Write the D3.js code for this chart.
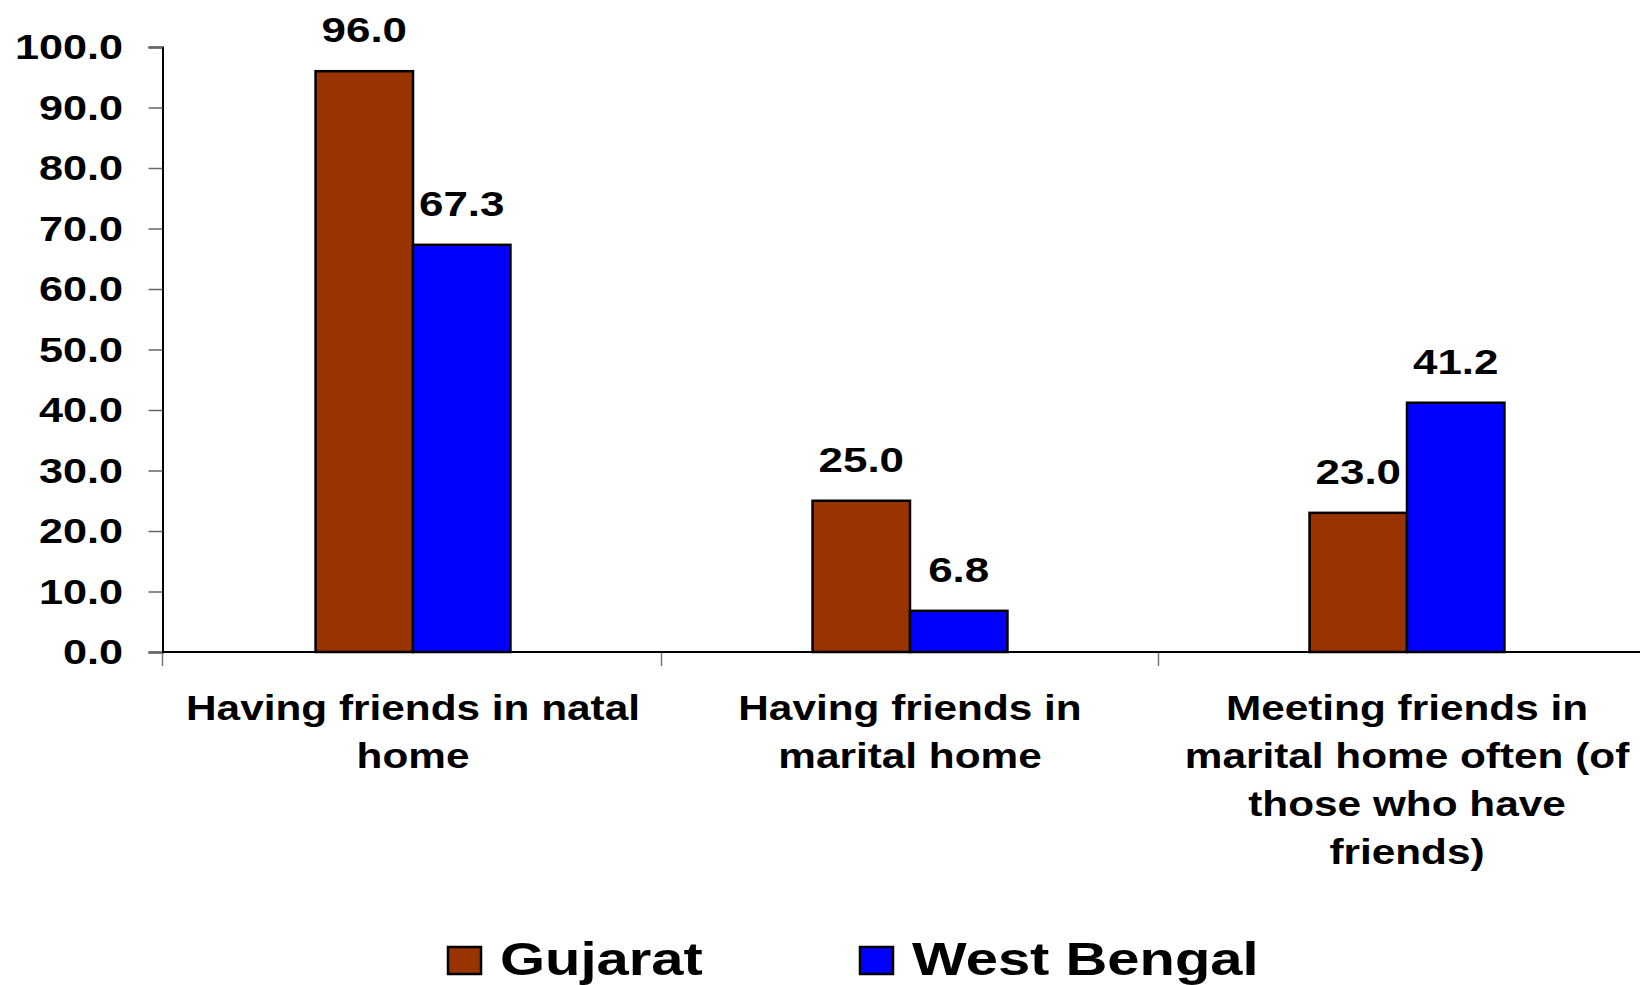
<!DOCTYPE html>
<html>
<head>
<meta charset="utf-8">
<script src="https://cdn.jsdelivr.net/npm/d3@7"></script>
<style>
  html, body { margin: 0; padding: 0; background: #ffffff; }
  svg { display: block; }
  text { font-family: "Liberation Sans", Arial, Helvetica, sans-serif; font-weight: bold; fill: #000; }
</style>
</head>
<body>
<svg id="chart" width="1640" height="985"></svg>
<script>
// ---- data ----
const categories = [
  "Having friends in natal home",
  "Having friends in marital home",
  "Meeting friends in marital home often (of those who have friends)"
];
const categoryLines = [
  ["Having friends in natal", "home"],
  ["Having friends in", "marital home"],
  ["Meeting friends in", "marital home often (of", "those who have", "friends)"]
];
const seriesNames = ["Gujarat", "West Bengal"];
const gujarat = [96.0, 25.0, 23.0];
const westBengal = [67.3, 6.8, 41.2];
const yTicks = [0, 10, 20, 30, 40, 50, 60, 70, 80, 90, 100];
const colors = ["#993300", "#0000FF"];

// ---- layout ----
const svg = d3.select("#chart");
const W = 1640, H = 985;
const axisX = 162.5, axisY = 652, topY = 47;
const catStart = 164.5;
const step = 497;

const x0 = d3.scaleBand().domain(categories).range([catStart, catStart + step * categories.length]).padding(0);
const x1 = d3.scaleBand().domain(seriesNames).range([0, x0.bandwidth()]).paddingInner(0).paddingOuter(1.55);
const y = d3.scaleLinear().domain([0, 100]).range([axisY, topY]);

const seriesValues = [gujarat, westBengal];
const rows = categories.map((c, i) => ({
  cat: c,
  vals: seriesNames.map((s, j) => ({ s, j, v: seriesValues[j][i] }))
}));

// y axis
const yAxis = d3.axisLeft(y).tickValues(yTicks).tickSize(14).tickFormat("");
const gy = svg.append("g").attr("transform", `translate(${axisX},0)`).call(yAxis);
gy.select(".domain").attr("stroke", "#000").attr("stroke-width", 2);
gy.selectAll(".tick line").attr("stroke", "#666").attr("stroke-width", 1.5);

// y tick labels (stretched horizontally like the reference)
svg.append("g").selectAll("g.ylab").data(yTicks).join("g")
  .attr("class", "ylab")
  .attr("transform", d => `translate(123,${y(d) + 12}) scale(1.2,1)`)
  .append("text")
  .attr("text-anchor", "end")
  .style("font-size", "36px")
  .text(d => d.toFixed(1));

// x axis
const xAxis = d3.axisBottom(x0).tickSize(0).tickFormat("");
const gx = svg.append("g").attr("transform", `translate(0,${axisY})`).call(xAxis);
gx.select(".domain").remove();
gx.append("line").attr("x1", axisX).attr("x2", W).attr("y1", 0).attr("y2", 0)
  .attr("stroke", "#000").attr("stroke-width", 2);
gx.selectAll("line.cattick").data(categories).join("line")
  .attr("class", "cattick")
  .attr("x1", (d, i) => i === 0 ? axisX : x0(d)).attr("x2", (d, i) => i === 0 ? axisX : x0(d))
  .attr("y1", 1).attr("y2", 14)
  .attr("stroke", "#777").attr("stroke-width", 1.5);

// bars
const groups = svg.append("g").selectAll("g.cat").data(rows).join("g")
  .attr("class", "cat")
  .attr("transform", d => `translate(${x0(d.cat)},0)`);

groups.selectAll("rect").data(d => d.vals).join("rect")
  .attr("x", d => x1(d.s))
  .attr("y", d => y(d.v))
  .attr("width", x1.bandwidth())
  .attr("height", d => y(0) - y(d.v))
  .attr("fill", d => colors[d.j])
  .attr("stroke", "#000")
  .attr("stroke-width", 2.5);

// value labels
groups.selectAll("g.vlab").data(d => d.vals).join("g")
  .attr("class", "vlab")
  .attr("transform", d => `translate(${x1(d.s) + x1.bandwidth() / 2},${y(d.v) - 29}) scale(1.22,1)`)
  .append("text")
  .attr("text-anchor", "middle")
  .style("font-size", "36px")
  .text(d => d.v.toFixed(1));

// category labels
categories.forEach((c, i) => {
  const cx = x0(c) + x0.bandwidth() / 2;
  categoryLines[i].forEach((line, k) => {
    svg.append("g")
      .attr("transform", `translate(${cx},${720 + k * 48}) scale(1.21,1)`)
      .append("text")
      .attr("text-anchor", "middle")
      .style("font-size", "35px")
      .text(line);
  });
});

// legend
const legendX = [448, 860];
const leg = svg.append("g").selectAll("g.leg").data(seriesNames).join("g")
  .attr("class", "leg");
leg.append("rect")
  .attr("x", (d, i) => legendX[i])
  .attr("y", 947)
  .attr("width", 33)
  .attr("height", 27)
  .attr("fill", (d, i) => colors[i])
  .attr("stroke", "#000")
  .attr("stroke-width", 2.5);
leg.append("g")
  .attr("transform", (d, i) => `translate(${legendX[i] + 52},975) scale(1.26,1)`)
  .append("text")
  .style("font-size", "46px")
  .text(d => d);
</script>
</body>
</html>
